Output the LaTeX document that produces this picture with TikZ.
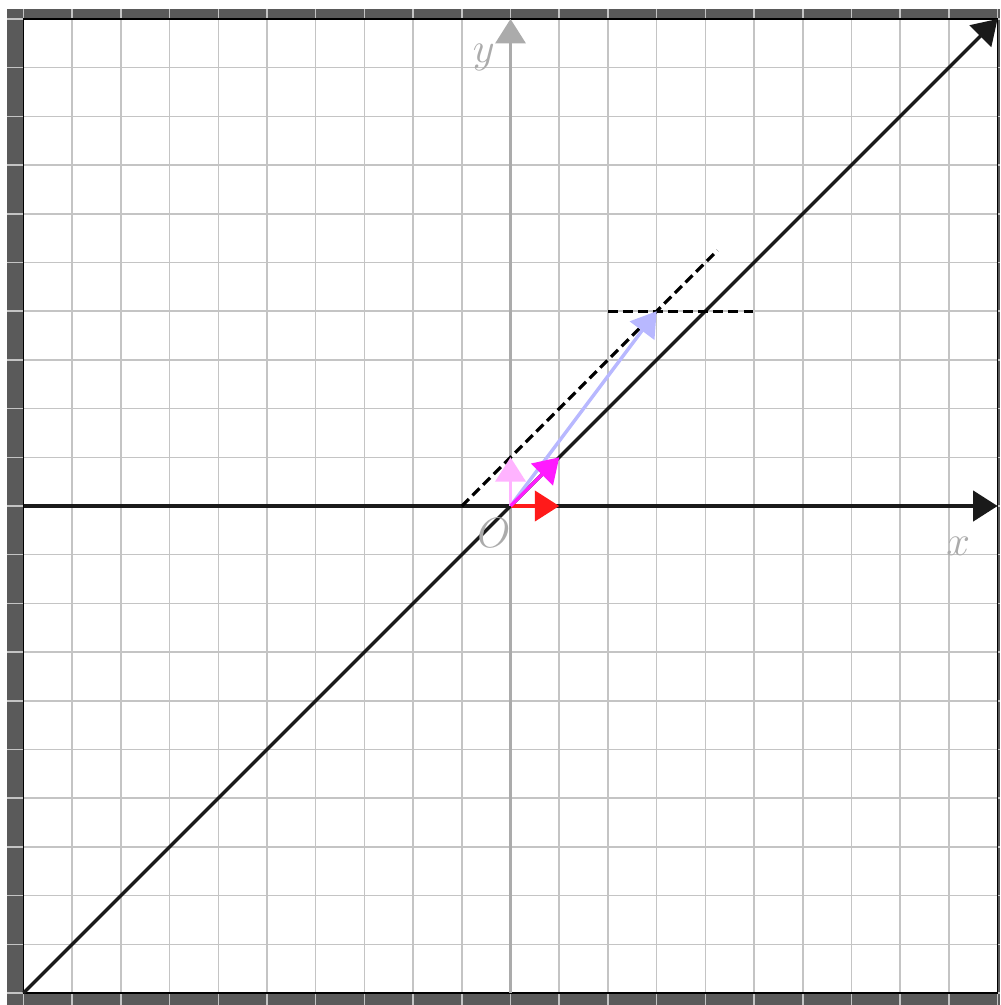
\documentclass[tikz,border=0pt]{standalone}
\usetikzlibrary{arrows.meta}
\definecolor{framegray}{HTML}{5A5A5A}
\definecolor{gridgray}{HTML}{C4C4C4}
\definecolor{axisgray}{HTML}{ABABAB}
\definecolor{pinkv}{HTML}{FFB3FF}
\definecolor{bluev}{HTML}{B8B8FF}
\definecolor{magv}{HTML}{FF1AFF}
\definecolor{redv}{HTML}{FF1A1A}
\definecolor{linek}{HTML}{1A1A1A}
\begin{document}
\begin{tikzpicture}[
  bigtip/.style={-{Triangle[length=0.5cm,width=0.62cm]}},
  vec/.style={line width=2pt, bigtip},
  mainline/.style={linek, line width=2pt},
  dashline/.style={black, line width=1.9pt, dash pattern=on 5.8pt off 3pt},
  gridline/.style={gridgray, line width=0.9pt},
  lbl/.style={text=axisgray, font=\fontsize{23}{25}\selectfont, inner sep=0pt}
]
\useasboundingbox (-10.483,-10.246) rectangle (10.051,10.390);
% frame
\fill[framegray] (-10.339,-10.246) rectangle (10.051,10.205);
\fill[white] (-10,-10) rectangle (10,10);
% grid
\foreach \i in {-10,...,10} {
  \draw[gridline] (\i,-10.246) -- (\i,10.205);
  \draw[gridline] (-10.339,\i) -- (10.051,\i);
}
\draw[black, line width=1pt] (-10,-10) rectangle (10,10);
% coordinates
\coordinate (O) at (0,0);
\coordinate (xl) at (-10,0);
\coordinate (xr) at (10,0);
\coordinate (yb) at (0,-10);
\coordinate (yt) at (0,10);
\coordinate (dl) at (-10,-10);
\coordinate (dr) at (10,10);
\coordinate (ds) at (-1,0);
\coordinate (de) at (4.25,5.25);
\coordinate (hs) at (2,4);
\coordinate (he) at (5,4);
\coordinate (e1) at (1,0);
\coordinate (e2) at (0,1);
\coordinate (m) at (1,1);
\coordinate (b) at (3,4);
% axes
\draw[axisgray, line width=1.4pt, bigtip] (yb) -- (yt);
\draw[mainline, bigtip] (xl) -- (xr);
\draw[mainline, bigtip] (dl) -- (dr);
% dashed lines
\draw[dashline] (ds) -- (de);
\draw[dashline] (hs) -- (he);
% vectors
\draw[vec, bluev] (O) -- (b);
\draw[vec, pinkv] (O) -- (e2);
\draw[vec, redv] (O) -- (e1);
\draw[vec, magv] (O) -- (m);
% labels
\node[lbl] (ylab) at (-0.55,9.2) {$y$};
\node[lbl] (xlab) at (9.19,-0.82) {$x$};
\node[lbl] (olab) at (-0.34,-0.55) {$O$};
\end{tikzpicture}
\end{document}
